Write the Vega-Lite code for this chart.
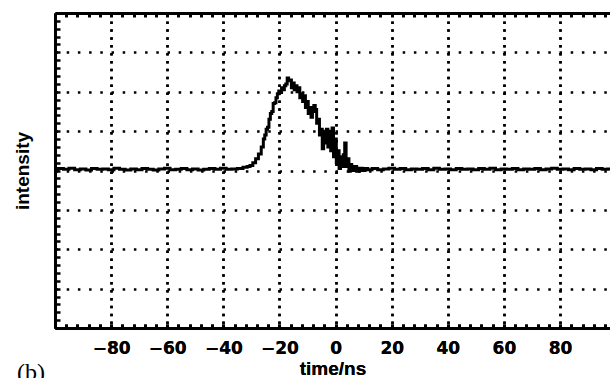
{
  "$schema": "https://vega.github.io/schema/vega-lite/v6.json",
  "autosize": {"type": "none"},
  "padding": {"left": 55, "top": 13, "right": 0, "bottom": 50},
  "width": 555,
  "height": 315,
  "background": "white",
  "config": {"view": {"stroke": null}},
  "data": {"values": [
    {"t": -100, "v": 4.02}, {"t": -98, "v": 4.05}, {"t": -96, "v": 4.03}, {"t": -94, "v": 4.06}, {"t": -92, "v": 4.02},
    {"t": -90, "v": 4.04}, {"t": -88, "v": 4.01}, {"t": -86, "v": 4.05}, {"t": -84, "v": 4.03}, {"t": -82, "v": 4.04},
    {"t": -80, "v": 4.02}, {"t": -78, "v": 4.06}, {"t": -76, "v": 4.03}, {"t": -74, "v": 4.01}, {"t": -72, "v": 4.04},
    {"t": -70, "v": 4.02}, {"t": -68, "v": 4.05}, {"t": -66, "v": 4.03}, {"t": -64, "v": 4.01}, {"t": -62, "v": 4.04},
    {"t": -60, "v": 4.06}, {"t": -58, "v": 4.02}, {"t": -56, "v": 4.03}, {"t": -54, "v": 4.05}, {"t": -52, "v": 4.02},
    {"t": -50, "v": 4.04}, {"t": -48, "v": 4.01}, {"t": -46, "v": 4.03}, {"t": -44, "v": 4.05}, {"t": -42, "v": 4.03},
    {"t": -40, "v": 4.06}, {"t": -38, "v": 4.03}, {"t": -36, "v": 4.04}, {"t": -34, "v": 4.05}, {"t": -32, "v": 4.08},
    {"t": -31, "v": 4.1}, {"t": -30, "v": 4.13}, {"t": -29, "v": 4.2}, {"t": -28, "v": 4.3}, {"t": -27, "v": 4.42},
    {"t": -26, "v": 4.6}, {"t": -25.5, "v": 4.8}, {"t": -25, "v": 4.9}, {"t": -24.5, "v": 5.05}, {"t": -24, "v": 5.1},
    {"t": -23.5, "v": 5.3}, {"t": -23, "v": 5.45}, {"t": -22.5, "v": 5.5}, {"t": -22, "v": 5.7}, {"t": -21.5, "v": 5.72},
    {"t": -21, "v": 5.85}, {"t": -20.5, "v": 5.95}, {"t": -20, "v": 6.02}, {"t": -19.5, "v": 5.98}, {"t": -19, "v": 6.1},
    {"t": -18.5, "v": 6.05}, {"t": -18, "v": 6.15}, {"t": -17.5, "v": 6.2}, {"t": -17, "v": 6.35}, {"t": -16.5, "v": 6.28},
    {"t": -16, "v": 6.3}, {"t": -15.5, "v": 6.1}, {"t": -15, "v": 6.22}, {"t": -14.5, "v": 6.05}, {"t": -14, "v": 6.15},
    {"t": -13.5, "v": 6.0}, {"t": -13, "v": 6.1}, {"t": -12.5, "v": 5.85}, {"t": -12, "v": 5.95}, {"t": -11.5, "v": 5.75},
    {"t": -11, "v": 5.9}, {"t": -10.5, "v": 5.6}, {"t": -10, "v": 5.75}, {"t": -9.5, "v": 5.45}, {"t": -9, "v": 5.6},
    {"t": -8.5, "v": 5.35}, {"t": -8, "v": 5.5}, {"t": -7.5, "v": 5.65}, {"t": -7, "v": 5.55}, {"t": -6.5, "v": 5.2},
    {"t": -6, "v": 5.3}, {"t": -5.5, "v": 4.9}, {"t": -5, "v": 5.05}, {"t": -4.5, "v": 4.55}, {"t": -4, "v": 5.0},
    {"t": -3.5, "v": 4.7}, {"t": -3, "v": 5.05}, {"t": -2.5, "v": 4.6}, {"t": -2, "v": 5.0}, {"t": -1.5, "v": 4.5},
    {"t": -1, "v": 5.08}, {"t": -0.5, "v": 4.35}, {"t": 0, "v": 4.8}, {"t": 0.5, "v": 4.2}, {"t": 1, "v": 4.5},
    {"t": 1.5, "v": 4.05}, {"t": 2, "v": 4.35}, {"t": 2.5, "v": 4.1}, {"t": 3, "v": 4.4}, {"t": 3.5, "v": 4.7},
    {"t": 4, "v": 4.1}, {"t": 4.5, "v": 4.3}, {"t": 5, "v": 3.98}, {"t": 5.5, "v": 4.15}, {"t": 6, "v": 4.0},
    {"t": 7, "v": 4.1}, {"t": 8, "v": 3.98}, {"t": 9, "v": 4.06}, {"t": 10, "v": 4.0}, {"t": 11, "v": 4.05},
    {"t": 12, "v": 4.02}, {"t": 14, "v": 4.05}, {"t": 16, "v": 4.02}, {"t": 18, "v": 4.04}, {"t": 20, "v": 4.06},
    {"t": 22, "v": 4.03}, {"t": 24, "v": 4.05}, {"t": 26, "v": 4.02}, {"t": 28, "v": 4.04}, {"t": 30, "v": 4.03},
    {"t": 32, "v": 4.05}, {"t": 34, "v": 4.02}, {"t": 36, "v": 4.06}, {"t": 38, "v": 4.03}, {"t": 40, "v": 4.04},
    {"t": 42, "v": 4.02}, {"t": 44, "v": 4.05}, {"t": 46, "v": 4.03}, {"t": 48, "v": 4.04}, {"t": 50, "v": 4.02},
    {"t": 52, "v": 4.05}, {"t": 54, "v": 4.03}, {"t": 56, "v": 4.06}, {"t": 58, "v": 4.02}, {"t": 60, "v": 4.04},
    {"t": 62, "v": 4.03}, {"t": 64, "v": 4.05}, {"t": 66, "v": 4.02}, {"t": 68, "v": 4.04}, {"t": 70, "v": 4.03},
    {"t": 72, "v": 4.05}, {"t": 74, "v": 4.02}, {"t": 76, "v": 4.04}, {"t": 78, "v": 4.06}, {"t": 80, "v": 4.03},
    {"t": 82, "v": 4.04}, {"t": 84, "v": 4.02}, {"t": 86, "v": 4.05}, {"t": 88, "v": 4.03}, {"t": 90, "v": 4.04},
    {"t": 92, "v": 4.02}, {"t": 94, "v": 4.05}, {"t": 96, "v": 4.03}, {"t": 98, "v": 4.04}
  ]},
  "encoding": {
    "x": {
      "field": "t", "type": "quantitative",
      "scale": {"domain": [-100, 97.8], "nice": false, "zero": false},
      "axis": {
        "orient": "bottom",
        "title": "time/ns",
        "titleFont": "Liberation Sans", "titleFontSize": 19, "titleFontWeight": "bold", "titleColor": "black",
        "titlePadding": 3,
        "values": [-100,-96,-92,-88,-84,-80,-76,-72,-68,-64,-60,-56,-52,-48,-44,-40,-36,-32,-28,-24,-20,-16,-12,-8,-4,0,4,8,12,16,20,24,28,32,36,40,44,48,52,56,60,64,68,72,76,80,84,88,92,96],
        "labelExpr": "(datum.value % 20 === 0 && abs(datum.value) <= 80) ? datum.label : ''",
        "labelOverlap": false, "labelFlush": false,
        "labelFont": "DejaVu Sans", "labelFontSize": 17, "labelFontWeight": "bold", "labelColor": "black",
        "labelPadding": 16,
        "domainColor": "black", "domainWidth": 3,
        "tickColor": "black", "tickWidth": 3, "tickSize": -4,
        "grid": true, "gridColor": "black", "gridWidth": 2.5, "gridDash": [2.5, 5.4],
        "gridOpacity": {"condition": {"test": "datum.value % 20 === 0 && datum.value > -100", "value": 1}, "value": 0}
      }
    },
    "y": {
      "field": "v", "type": "quantitative",
      "scale": {"domain": [0, 8], "nice": false, "zero": false},
      "axis": {
        "orient": "left",
        "title": "intensity",
        "titleFont": "Liberation Sans", "titleFontSize": 19, "titleFontWeight": "bold", "titleColor": "black",
        "titlePadding": 21,
        "labels": false,
        "values": [0,0.2,0.4,0.6,0.8,1,1.2,1.4,1.6,1.8,2,2.2,2.4,2.6,2.8,3,3.2,3.4,3.6,3.8,4,4.2,4.4,4.6,4.8,5,5.2,5.4,5.6,5.8,6,6.2,6.4,6.6,6.8,7,7.2,7.4,7.6,7.8,8],
        "domainColor": "black", "domainWidth": 3,
        "tickColor": "black", "tickWidth": 2.5, "tickSize": -5,
        "grid": true, "gridColor": "black", "gridWidth": 2.5, "gridDash": [2.5, 8.7],
        "gridOpacity": {"condition": {"test": "datum.value % 1 === 0 && datum.value > 0 && datum.value < 8", "value": 1}, "value": 0}
      }
    }
  },
  "layer": [
    {
      "mark": {"type": "line", "color": "black", "strokeWidth": 3, "interpolate": "step", "clip": true}
    },
    {
      "mark": {"type": "line", "opacity": 0},
      "encoding": {
        "x": {
          "field": "t", "type": "quantitative",
          "scale": {"domain": [-100, 97.8], "nice": false, "zero": false},
          "axis": {
            "orient": "top", "title": null, "labels": false, "grid": false,
            "values": [-100,-96,-92,-88,-84,-80,-76,-72,-68,-64,-60,-56,-52,-48,-44,-40,-36,-32,-28,-24,-20,-16,-12,-8,-4,0,4,8,12,16,20,24,28,32,36,40,44,48,52,56,60,64,68,72,76,80,84,88,92,96],
            "domainColor": "black", "domainWidth": 3,
            "tickColor": "black", "tickWidth": 3, "tickSize": -4
          }
        }
      }
    },
    {
      "data": {"values": [{"label": "(b)", "t": -113.5, "v": -1.32}]},
      "mark": {"type": "text", "font": "Liberation Serif", "fontSize": 24, "align": "left", "baseline": "alphabetic", "color": "black"},
      "encoding": {
        "text": {"field": "label"}
      }
    }
  ]
}
